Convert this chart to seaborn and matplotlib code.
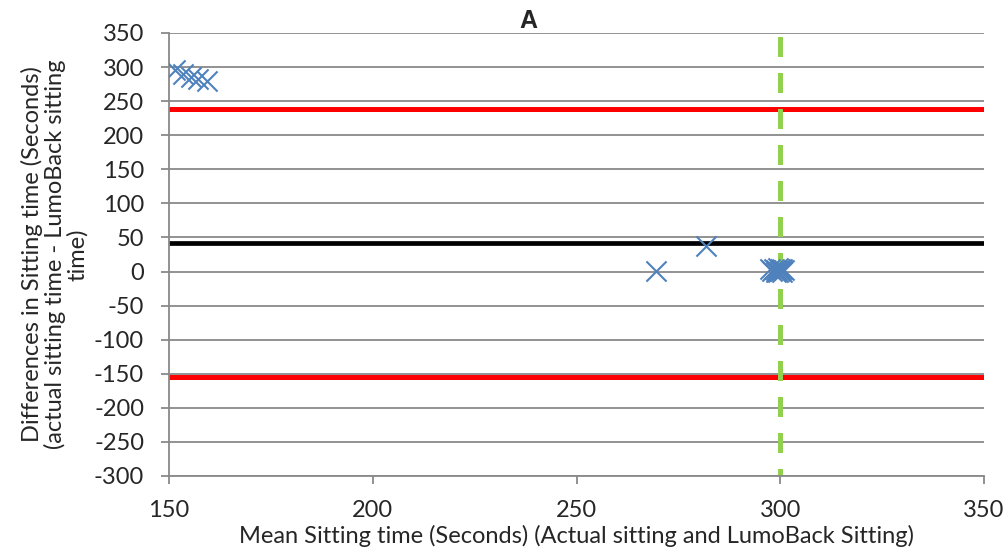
import matplotlib
matplotlib.use("Agg")
import matplotlib.pyplot as plt
import seaborn as sns
import pandas as pd

# Bland-Altman data
mean_sitting = [151.5, 153.5, 155.5, 157, 159.3, 269.5, 281.7,
                297.5, 298, 298.5, 299, 299, 299.5, 300, 300, 300.5, 300.5, 301, 299.5]
diff_sitting = [296, 290, 286, 283, 279, 1, 37,
                3, 1, 4, 0, 2, 5, 1, 3, 0, 4, 2, -1]
mean_diff = 41.5
upper_loa = 238
lower_loa = -155
ref_x = 300

df = pd.DataFrame({"mean": mean_sitting, "diff": diff_sitting})

sns.set_style("white")
plt.rcParams["font.family"] = ["Lato", "DejaVu Sans"]
plt.rcParams["axes.unicode_minus"] = False

fig = plt.figure(figsize=(10.08, 5.59), dpi=100)
ax = fig.add_axes([0.1677, 0.1485, 0.8085, 0.7925])

ax.axhline(upper_loa, color="#ff0000", lw=3.6, zorder=2)
ax.axhline(lower_loa, color="#ff0000", lw=3.6, zorder=2)
ax.axhline(mean_diff, color="black", lw=3.4, zorder=2)
ax.plot([ref_x, ref_x], [350, -300], color="#92d050", lw=3.6,
        ls=(6.5, (4, 3.2)), zorder=2)

sns.scatterplot(data=df, x="mean", y="diff", marker="x", s=210,
                color="#4f81bd", linewidth=1.5, ax=ax, zorder=3)

ax.set_xlim(150, 350)
ax.set_ylim(-300, 350)
ax.set_xticks(range(150, 351, 50))
ax.set_yticks(range(-300, 351, 50))
ax.yaxis.grid(True, color="#898989", lw=1.3)
ax.set_axisbelow(True)
for s in ["top", "right"]:
    ax.spines[s].set_visible(False)
for s in ["left", "bottom"]:
    ax.spines[s].set_color("#898989")
    ax.spines[s].set_linewidth(1.3)
ax.tick_params(axis="both", direction="out", length=6, width=1.3, color="#898989",
               labelsize=17, left=True, bottom=True)
ax.tick_params(axis="y", pad=12)
ax.tick_params(axis="x", pad=11)

fig.text(0.524, 0.95, "A", fontsize=18, fontweight="bold",
         family="Liberation Sans", ha="center", va="baseline")
ax.set_xlabel("Mean Sitting time (Seconds) (Actual sitting and LumoBack Sitting)",
              fontsize=17, labelpad=3)
ax.set_ylabel("Differences in Sitting time (Seconds)\n(actual sitting time - LumoBack sitting\ntime)",
              fontsize=17, labelpad=4, linespacing=1.05)

fig.savefig("out.png", dpi=100)
